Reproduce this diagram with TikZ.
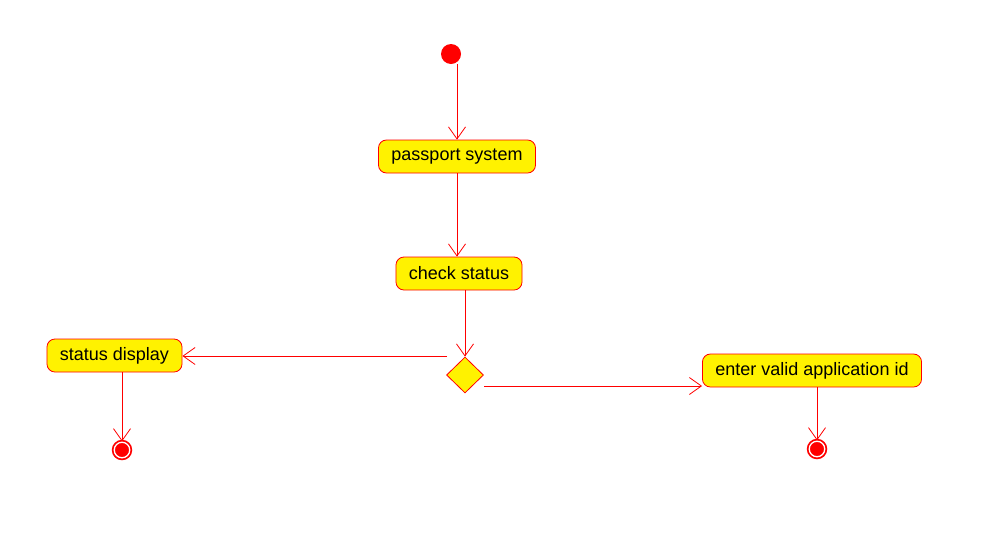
\documentclass[tikz,border=0pt]{standalone}
\usepackage{fontspec}
\setmainfont{Liberation Sans}
\usetikzlibrary{shapes.geometric,arrows.meta}

\tikzset{
  activity/.style={draw=red,fill=yellow,rounded corners=8pt,line width=0.8pt,
    minimum height=33pt,inner xsep=13pt,inner ysep=0pt,
    font=\fontsize{18}{22}\selectfont},
  decision/.style={diamond,draw=red,fill=yellow,line width=0.8pt,inner sep=0pt,
    minimum width=37pt,minimum height=36pt},
  initial/.style={circle,fill=red,inner sep=0pt,minimum size=20pt},
  final/.style={circle,fill=red,inner sep=0pt,minimum size=15.5pt,draw=red,
    line width=1.8pt,double=white,double distance=1.3pt},
  flow/.style={draw=red,line width=0.8pt,-{Straight Barb[length=12pt,width=17pt]}}
}

\begin{document}
\begin{tikzpicture}[x=1pt,y=-1pt]
  \useasboundingbox[fill=white] (0,0) rectangle (990,555);
  % Nodes
  \node[initial] (start) at (451,54) {};
  \node[activity] (passport) at (457,156.5) {passport system};
  \node[activity] (check) at (459,273.5) {check status};
  \node[decision] (dec) at (465,375) {};
  \node[activity] (status) at (114.5,355.5) {status display};
  \node[activity] (enter) at (812,370.5) {enter valid application id};
  \node[final] (end1) at (122,450) {};
  \node[final] (end2) at (817,449) {};

  % Flows
  \draw[flow] (passport.north |- start.south) -- (passport.north);
  \draw[flow] (passport.south) -- (passport.south |- check.north);
  \draw[flow] (dec.north |- check.south) -- (dec.north);
  \coordinate (l0) at (447,356);
  \coordinate (r0) at (484,386);
  \draw[flow] (l0) -- (status.east |- l0);
  \draw[flow] (r0) -- (enter.west |- r0);
  \draw[flow] (end1 |- status.south) -- (end1.north);
  \draw[flow] (end2 |- enter.south) -- (end2.north);
\end{tikzpicture}
\end{document}
